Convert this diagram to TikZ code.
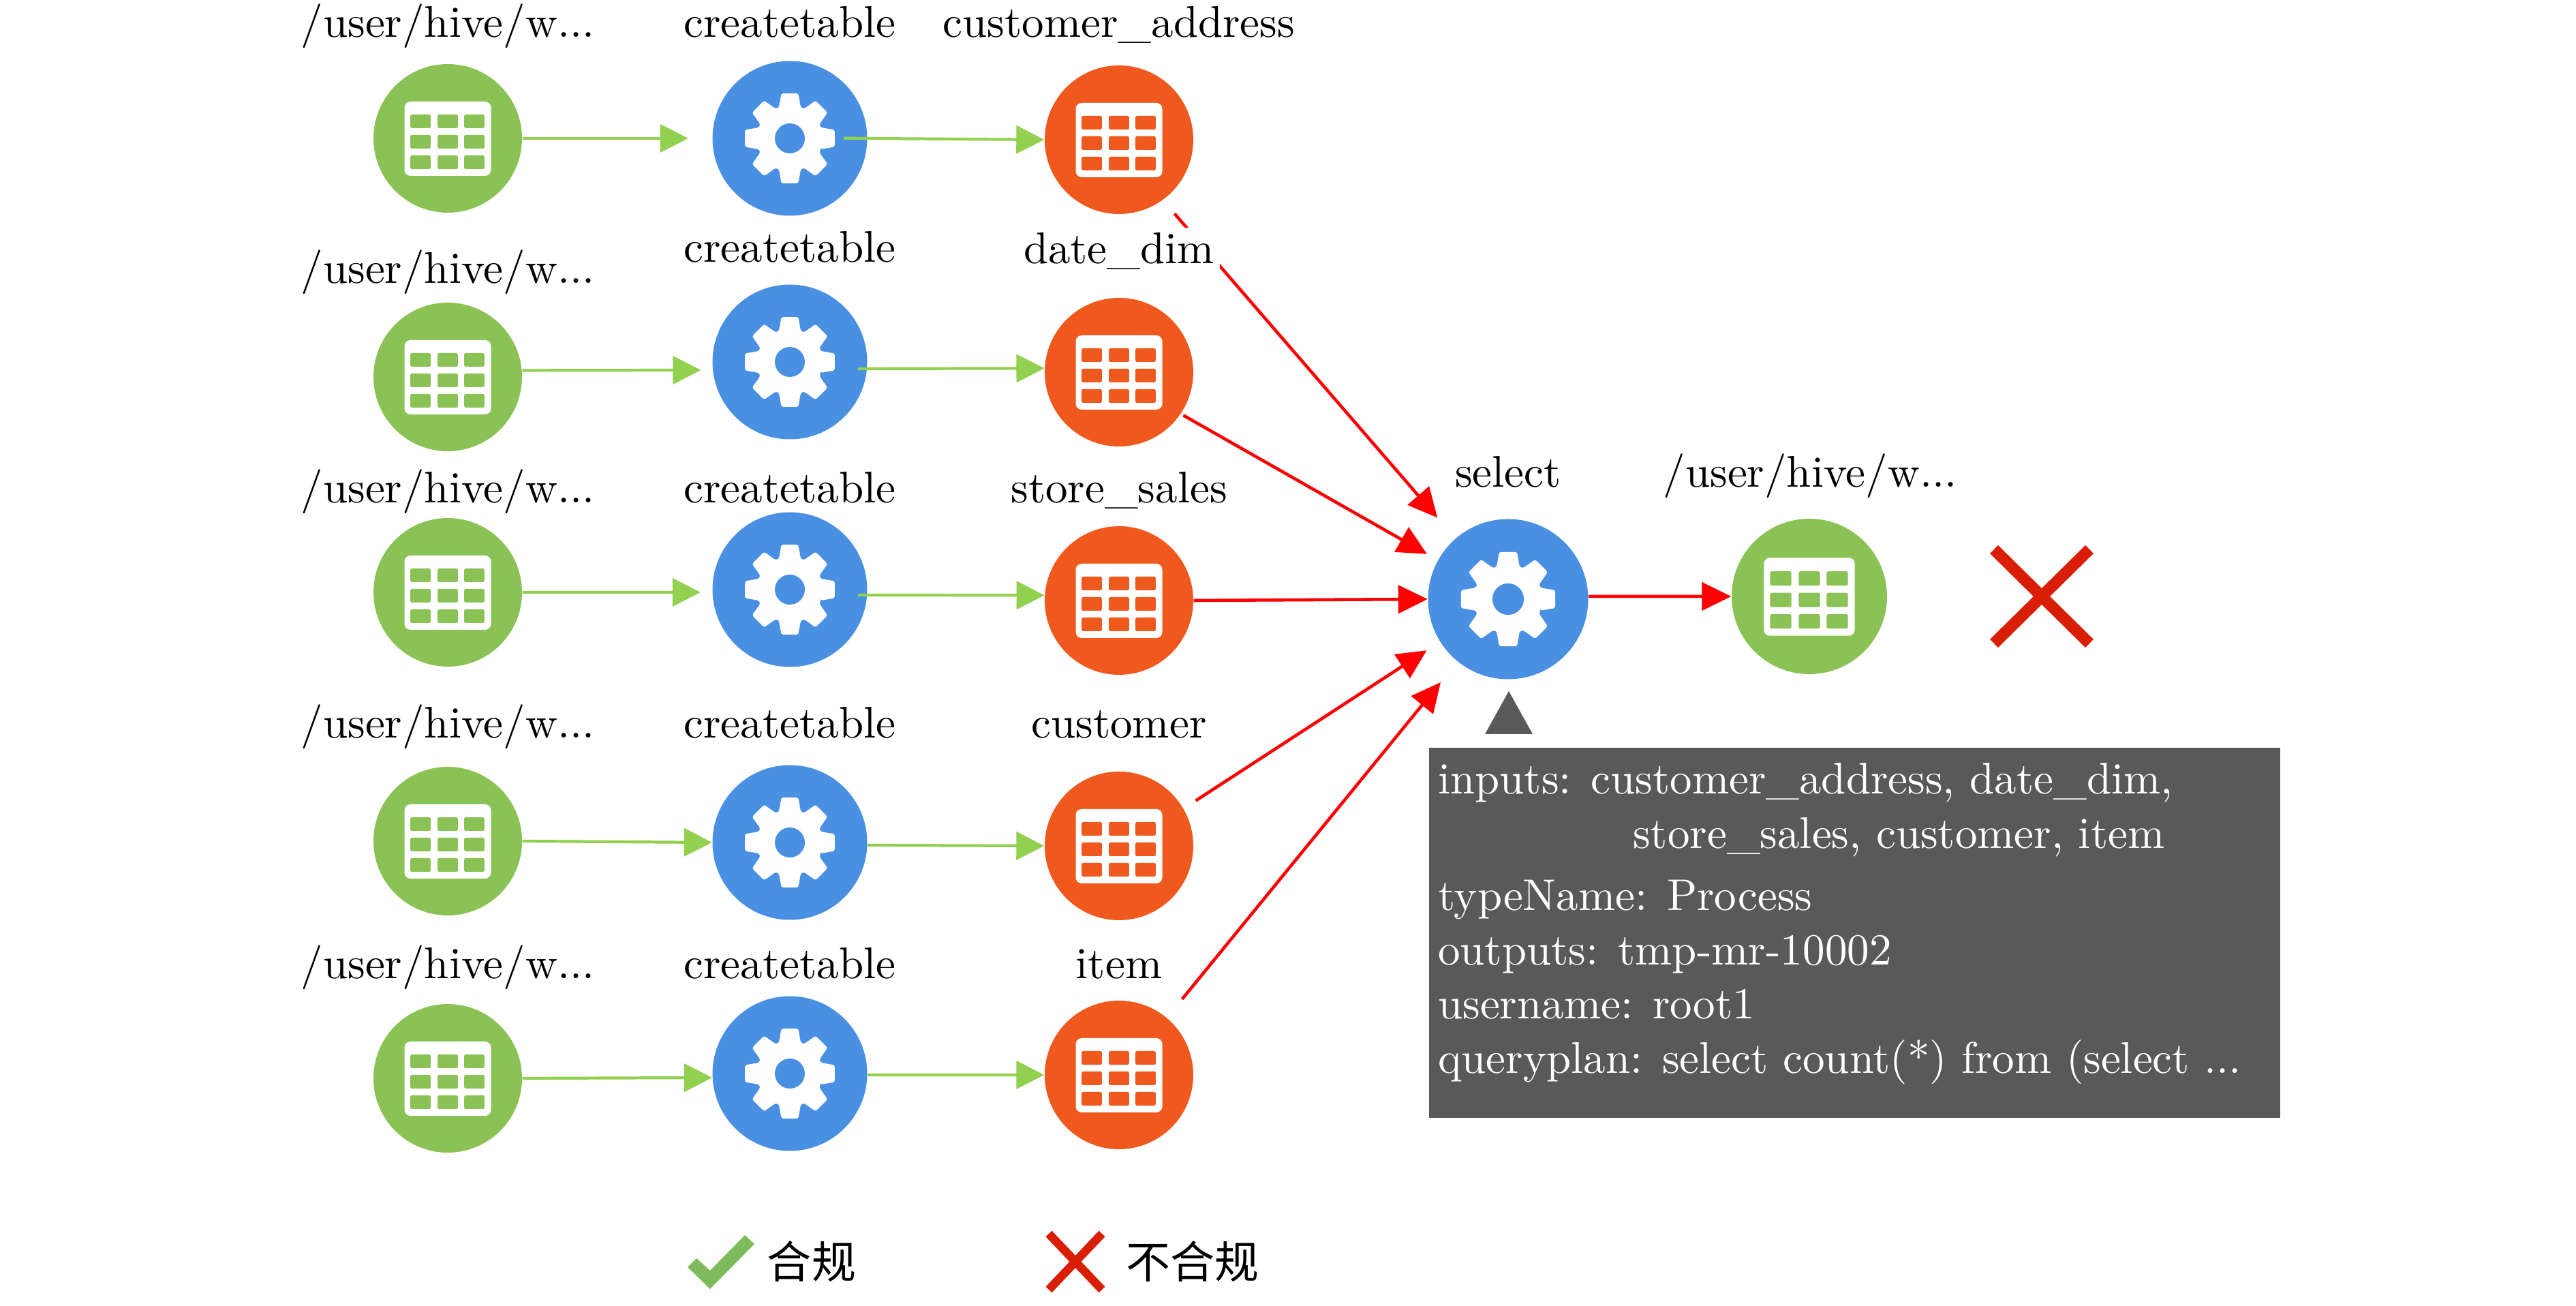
\documentclass[tikz,border=0pt]{standalone}
\usepackage{fontspec}
\newfontfamily\cjk{Noto Sans CJK SC}
\usetikzlibrary{arrows.meta}
\definecolor{datagreen}{HTML}{8BC255}
\definecolor{procblue}{HTML}{4A90E2}
\definecolor{tblorange}{HTML}{F0591E}
\definecolor{tipgrey}{HTML}{595959}
\definecolor{linegreen}{HTML}{92D050}
\definecolor{crossred}{HTML}{D81E06}
\definecolor{checkgreen}{HTML}{7DBB5C}
\tikzset{
  lbl/.style={scale=1.85, inner sep=1.2pt, anchor=base},
  tiptext/.style={scale=1.85, inner sep=0pt, anchor=base west, text=white},
  hdfs/.style={circle, fill=datagreen, minimum size=2.18cm, inner sep=0pt},
  proc/.style={circle, fill=procblue, minimum size=2.27cm, inner sep=0pt},
  tbl/.style={circle, fill=tblorange, minimum size=2.18cm, inner sep=0pt},
  okline/.style={draw=linegreen, line width=1.2pt, -{Triangle[length=.41cm,width=.41cm]}},
  badline/.style={draw=red, line width=1.3pt, -{Triangle[length=.43cm,width=.41cm]}},
  pics/tableicon/.style={code={
    \fill[white, rounded corners=2.5pt] (-.635,-.55) rectangle (.635,.54);
    \foreach \cx in {-.40,0,.39} \foreach \cy in {.25,-.05,-.35}
      \fill[#1, rounded corners=.6pt] (\cx-.148,\cy-.10) rectangle (\cx+.148,\cy+.10);
  }},
  pics/gearicon/.style={code={
    \fill[white, rounded corners=.8pt] (-19.5:.48)
      \foreach \a in {0,45,...,315} { -- ({\a-19.5}:.48) -- ({\a-10.7}:.67) -- ({\a+10.7}:.67) -- ({\a+19.5}:.48) } -- cycle;
    \fill[procblue] (0,0) circle (.22);
  }}
}
\begin{document}
\begin{tikzpicture}
\useasboundingbox (0,0) rectangle (37.8,19.16);

\node[hdfs] (g1) at (6.57,17.13) {}; \node[proc] (b1) at (11.59,17.13) {}; \node[tbl] (o1) at (16.42,17.11) {};
\node[hdfs] (g2) at (6.57,13.63) {}; \node[proc] (b2) at (11.59,13.85) {}; \node[tbl] (o2) at (16.42,13.70) {};
\node[hdfs] (g3) at (6.57,10.47) {}; \node[proc] (b3) at (11.59,10.51) {}; \node[tbl] (o3) at (16.42,10.35) {};
\node[hdfs] (g4) at (6.57,6.82) {};  \node[proc] (b4) at (11.59,6.80) {};  \node[tbl] (o4) at (16.42,6.75) {};
\node[hdfs] (g5) at (6.57,3.34) {};  \node[proc] (b5) at (11.59,3.41) {};  \node[tbl] (o5) at (16.42,3.39) {};
\node[proc, minimum size=2.35cm] (sel) at (22.13,10.37) {};
\node[hdfs, minimum size=2.28cm] (out) at (26.55,10.41) {};

\pic at (g1) {tableicon=datagreen}; \pic at (b1) {gearicon}; \pic at (o1) {tableicon=tblorange};
\pic at (g2) {tableicon=datagreen}; \pic at (b2) {gearicon}; \pic at (o2) {tableicon=tblorange};
\pic at (g3) {tableicon=datagreen}; \pic at (b3) {gearicon}; \pic at (o3) {tableicon=tblorange};
\pic at (g4) {tableicon=datagreen}; \pic at (b4) {gearicon}; \pic at (o4) {tableicon=tblorange};
\pic at (g5) {tableicon=datagreen}; \pic at (b5) {gearicon}; \pic at (o5) {tableicon=tblorange};
\pic[scale=1.05] at (sel) {gearicon}; \pic[scale=1.05] at (out) {tableicon=datagreen};

\draw[okline, shorten >=.35cm] (g1.east) -- (b1.west);
\draw[okline, shorten <=-.35cm] (b1.east) -- (o1.west);
\draw[okline, shorten >=.17cm] (g2.5.3) -- (b2.186);
\draw[okline, shorten <=-.14cm] (b2.-5) -- (o2.177.4);
\draw[okline, shorten >=.17cm] (g3.east) -- (b3.182);
\draw[okline, shorten <=-.14cm] (b3.-4.5) -- (o3.176.3);
\draw[okline] (g4.east) -- (b4.west);
\draw[okline] (b4.-2.5) -- (o4.west);
\draw[okline] (g5.east) -- (b5.183.5);
\draw[okline] (b5.-1) -- (o5.west);

\draw[badline, shorten <=.26cm, shorten >=.40cm] (o1.-54.8) -- (sel.131.2);
\draw[badline, shorten <=.04cm, shorten >=.18cm] (o2.-34) -- (sel.151.3);
\draw[badline] (o3.east) -- (sel.west);
\draw[badline, shorten <=.21cm, shorten >=.23cm] (o4.30.8) -- (sel.212.4);
\draw[badline, shorten <=.35cm, shorten >=.39cm] (o5.50.2) -- (sel.231.1);
\draw[badline] (sel.2.5) -- (out.west);

\node[lbl] (tg1) at (6.57,18.61) {/user/hive/w...}; \node[lbl] (tb1) at (11.59,18.61) {createtable}; \node[lbl] (to1) at (16.42,18.61) {customer\_address};
\node[lbl] (tg2) at (6.57,15.00) {/user/hive/w...}; \node[lbl] (tb2) at (11.59,15.31) {createtable}; \node[lbl, fill=white] (to2) at (16.42,15.29) {date\_dim};
\node[lbl] (tg3) at (6.57,11.78) {/user/hive/w...}; \node[lbl] (tb3) at (11.59,11.78) {createtable}; \node[lbl] (to3) at (16.42,11.78) {store\_sales};
\node[lbl] (tg4) at (6.57,8.33) {/user/hive/w...};  \node[lbl] (tb4) at (11.59,8.33) {createtable};  \node[lbl] (to4) at (16.42,8.33) {customer};
\node[lbl] (tg5) at (6.57,4.80) {/user/hive/w...};  \node[lbl] (tb5) at (11.59,4.80) {createtable};  \node[lbl] (to5) at (16.42,4.80) {item};
\node[lbl] (tsel) at (22.13,12.01) {select}; \node[lbl] (tout) at (26.56,12.01) {/user/hive/w...};

\draw[crossred, line width=.17cm] (29.26,11.10) -- (30.66,9.72) (29.26,9.72) -- (30.66,11.10);

\fill[tipgrey] (21.79,8.39) -- (22.14,9.02) -- (22.49,8.39) -- cycle;
\node[fill=tipgrey, anchor=north west, minimum width=12.49cm, minimum height=5.43cm, inner sep=0pt] (tipbox) at (20.96,8.20) {};
\node[tiptext] (l1) at (21.09,7.51) {inputs: customer\_address, date\_dim,};
\node[tiptext] (l2) at (23.95,6.71) {store\_sales, customer, item};
\node[tiptext] (l3) at (21.09,5.80) {typeName: Process};
\node[tiptext] (l4) at (21.09,5.00) {outputs: tmp-mr-10002};
\node[tiptext] (l5) at (21.09,4.215) {username: root1};
\node[tiptext] (l6) at (21.09,3.41) {queryplan: select count(*) from (select ...};

\fill[checkgreen] (10.09,0.57) -- (10.22,0.70) -- (10.42,0.52) -- (10.93,1.04) -- (11.07,0.91) -- (10.42,0.25) -- cycle;
\node[scale=1.85, inner sep=0pt] (okname) at (11.91,0.65) {\cjk 合规};
\draw[crossred, line width=.125cm] (15.39,1.06) -- (16.17,0.24) (15.39,0.24) -- (16.17,1.06);
\node[scale=1.85, inner sep=0pt] (badname) at (17.50,0.65) {\cjk 不合规};
\end{tikzpicture}
\end{document}
